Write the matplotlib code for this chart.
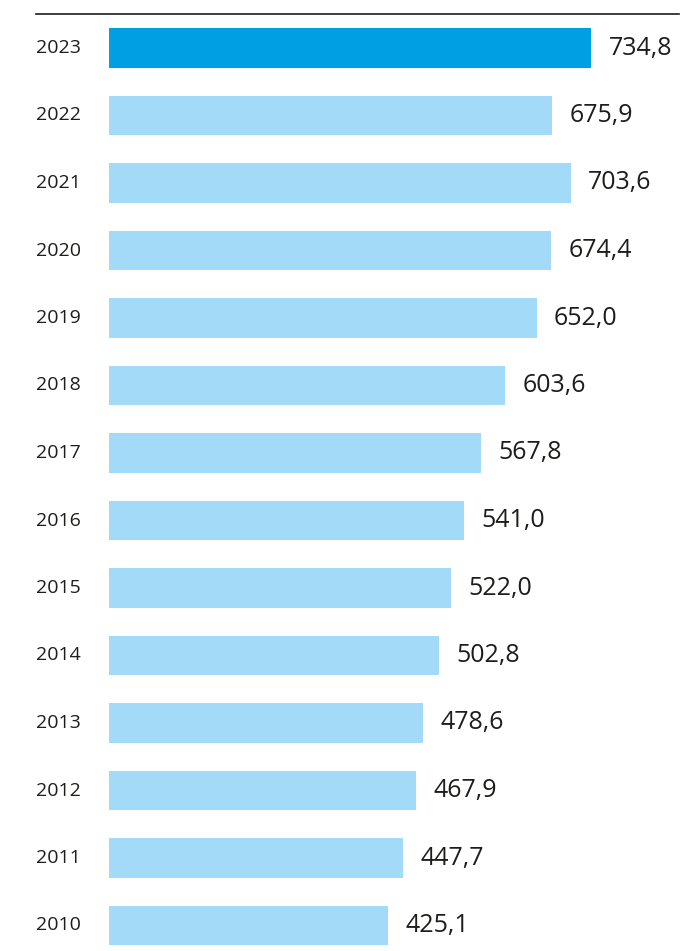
import matplotlib
matplotlib.use("Agg")
import matplotlib.pyplot as plt
from matplotlib.lines import Line2D

years = ["2023", "2022", "2021", "2020", "2019", "2018", "2017",
         "2016", "2015", "2014", "2013", "2012", "2011", "2010"]
values = [734.8, 675.9, 703.6, 674.4, 652.0, 603.6, 567.8,
          541.0, 522.0, 502.8, 478.6, 467.9, 447.7, 425.1]

W, H = 700, 951
fig = plt.figure(figsize=(W / 100, H / 100), dpi=100)
plt.rcParams["font.family"] = ["Open Sans", "DejaVu Sans"]

# axes spans from bar origin (x=109px) to right edge, top rule to bottom
ax = fig.add_axes([109 / W, 0, (679 - 109) / W, (H - 14) / H])
ypos = list(range(len(years)))
colors = ["#009fe3"] + ["#a3daf7"] * (len(years) - 1)
ax.barh(ypos, values, height=0.59, color=colors)
ax.set_xlim(0, (679 - 109) / 0.656)
ax.set_ylim(13 + (951 - 925.5) / 67.5, -(48 - 14) / 67.5)
ax.axis("off")

for y, v in zip(ypos, values):
    ax.annotate(f"{v:.1f}".replace(".", ","), (v, y), xytext=(12.5, 0),
                textcoords="offset points", va="center", ha="left",
                fontsize=18, color="#1d1d1b")

for y, lab in zip(ypos, years):
    ax.annotate(lab, (0, y), xycoords=("axes fraction", "data"),
                xytext=(-(109 - 36) * 0.72, 0), textcoords="offset points",
                va="center", ha="left", fontsize=14, color="#1d1d1b")

fig.add_artist(Line2D([36 / W, 679 / W], [1 - 14 / H, 1 - 14 / H],
                      color="#1d1d1b", lw=1.2))

fig.savefig("out.png", dpi=100)
